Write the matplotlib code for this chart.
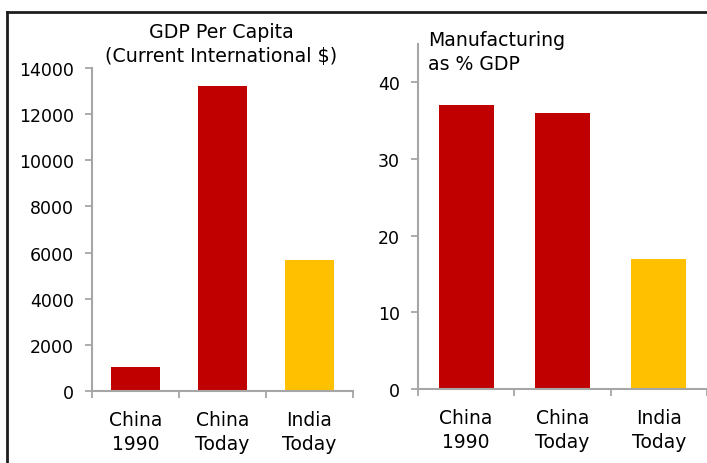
import matplotlib.pyplot as plt
from matplotlib.lines import Line2D

# --- Data ---
categories = ['China\n1990', 'China\nToday', 'India\nToday']
gdp_per_capita = [1050, 13200, 5680]
manufacturing_pct = [37, 36, 17]
bar_colors = ['#C00000', '#C00000', '#FFC000']

AXIS_GRAY = '#A6A6A6'

plt.rcParams['font.family'] = ['DejaVu Sans']

fig = plt.figure(figsize=(7.07, 4.64), dpi=100)


def draw_panel(ax, values, ymax, yticks):
    x = list(range(len(categories)))
    ax.bar(x, values, width=0.57, color=bar_colors, zorder=2)
    ax.set_xlim(-0.5, len(categories) - 0.5)
    ax.set_ylim(0, ymax)
    ax.set_yticks(yticks)
    ax.set_xticks(x)
    ax.set_xticklabels(categories, fontsize=13.5, linespacing=1.3)
    ax.set_xticks([i - 0.5 for i in range(len(categories) + 1)], minor=True)
    ax.tick_params(axis='x', which='major', length=0, pad=14)
    ax.tick_params(axis='x', which='minor', length=5, width=1.3,
                   color=AXIS_GRAY, direction='out')
    ax.tick_params(axis='y', length=5, width=1.3, color=AXIS_GRAY,
                   labelsize=12.5, pad=8)
    for side in ['top', 'right']:
        ax.spines[side].set_visible(False)
    for side in ['left', 'bottom']:
        ax.spines[side].set_color(AXIS_GRAY)
        ax.spines[side].set_linewidth(1.5)


# --- Left: GDP per capita ---
ax1 = fig.add_axes([0.1301, 0.1552, 0.3692, 0.6961])
draw_panel(ax1, gdp_per_capita, 14000, range(0, 14001, 2000))

# --- Right: manufacturing share ---
ax2 = fig.add_axes([0.5912, 0.1595, 0.4088, 0.7435])
draw_panel(ax2, manufacturing_pct, 45, range(0, 41, 10))

# --- Chart titles ---
fig.text(221 / 707, 1 - 66 / 464, 'GDP Per Capita\n(Current International $)',
         ha='center', va='bottom', fontsize=13.7, linespacing=1.3)
fig.text(428 / 707, 1 - 74 / 464, 'Manufacturing\nas % GDP',
         ha='left', va='bottom', fontsize=13.6, linespacing=1.35)

# --- Frame around the panel (top and left edges only visible) ---
fig.add_artist(Line2D([7 / 707, 1.0], [1 - 13 / 464, 1 - 13 / 464],
                      transform=fig.transFigure, color='#1E1E1E', linewidth=2))
fig.add_artist(Line2D([7 / 707, 7 / 707], [0, 1 - 13 / 464],
                      transform=fig.transFigure, color='#1E1E1E', linewidth=2))

fig.savefig('out.png', dpi=100)
